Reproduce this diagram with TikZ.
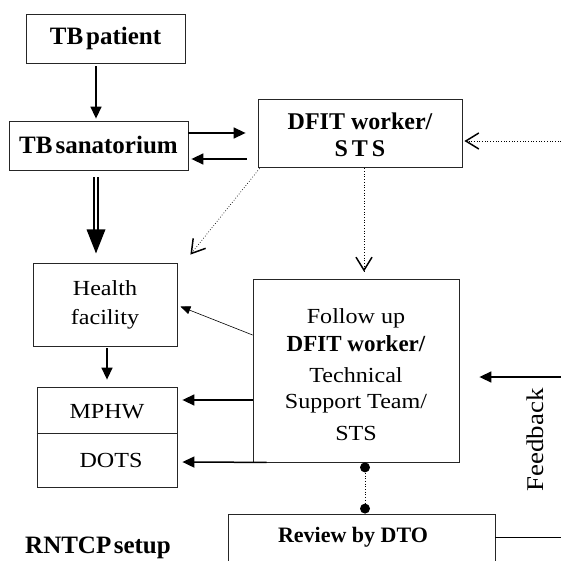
\documentclass[tikz,border=0pt]{standalone}
\usepackage{fontspec}
\setmainfont{Liberation Serif}
\newfontfamily\widefont{Liberation Serif}[FakeStretch=1.12]
\usetikzlibrary{arrows.meta,calc}
\begin{document}
\begin{tikzpicture}[x=1pt,y=-1pt,
  box/.style={draw=black!85,line width=0.8pt,inner sep=0pt},
  hd/.style={font=\fontsize{24}{26}\selectfont\bfseries},
  rg/.style={font=\widefont\fontsize{21.5}{29}\selectfont},
  arr/.style={line width=1.5pt,-{Triangle[length=12pt,width=11pt]}},
  thinarr/.style={line width=0.6pt,-{Triangle[length=10pt,width=8pt]}},
  dotline/.style={line width=0.7pt,dotted},
  vtip/.style={line width=1.5pt,solid,-{Straight Barb[length=13pt,width=16pt]}}]
\useasboundingbox (0,0) rectangle (561,561);
\clip (0,0) rectangle (561,561);
% boxes
\node[box,minimum width=159pt,minimum height=49pt] (tbp) at (105.5,38.5) {};
\node[hd,font=\fontsize{25}{26}\selectfont\bfseries] at (105.5,38) {TB\hspace{0.12em}patient};
\node[box,minimum width=179pt,minimum height=49pt] (tbs) at (98.5,145.5) {};
\node[hd,font=\fontsize{25}{26}\selectfont\bfseries] at (98.5,145) {TB\hspace{0.12em}sanatorium};
\node[box,minimum width=204pt,minimum height=68pt] (dfit) at (360,133) {};
\node[hd] at (360,121) {DFIT worker/};
\node[hd] at (360,149) {S\,T\,S};
\node[box,minimum width=144pt,minimum height=83pt] (hf) at (105,304.5) {};
\node[rg,align=center] at (105,305) {Health\\facility};
\node[box,minimum width=140pt,minimum height=100pt] (mp) at (107,437) {};
\draw[line width=0.8pt,draw=black!85] (mp.west |- 0,433) -- (mp.east |- 0,433);
\node[rg] at (107,412) {MPHW};
\node[rg] at (111,460) {DOTS};
\node[box,minimum width=206pt,minimum height=183pt] (fu) at (356,370.5) {};
\node[rg,align=center] at (356,318) {Follow up};
\node[hd,font=\fontsize{23}{26}\selectfont\bfseries] at (356,344) {DFIT worker/};
\node[rg] at (356,375) {Technical};
\node[rg] at (356,404) {Support Team/};
\node[rg] at (356,433) {STS};
\node[box,minimum width=267pt,minimum height=80pt] (rv) at (361.5,554) {};
\node[hd,font=\fontsize{22}{26}\selectfont\bfseries] at (353,537) {Review by DTO};
\node[font=\fontsize{25}{28}\selectfont\bfseries] (rn) at (98,548) {RNTCP\hspace{0.1em}setup};
\node[rg,rotate=90,font=\widefont\fontsize{24}{28}\selectfont] (fb) at (535,440) {Feedback};
% free ends
\coordinate (inR) at (561,141);
\coordinate (fbR) at (561,377);
\coordinate (rvR) at (561,537);
% connectors
\draw[arr] ($(tbp.south)+(-9.5,3)$) -- ($(tbs.north)+(-2.5,-2)$);
\draw[arr] (tbs.east |- 0,133) -- ($(dfit.west |- 0,133)+(-12,0)$);
\draw[arr] ($(dfit.west |- 0,159)+(-11,0)$) -- ($(tbs.east |- 0,159)+(3,0)$);
% double thick arrow
\draw[line width=1.6pt] ($(tbs.south)+(-4.5,7)$) -- ($(tbs.south)+(-4.5,62)$);
\draw[line width=1.6pt] ($(tbs.south)+(-0.5,7)$) -- ($(tbs.south)+(-0.5,62)$);
\fill ($(tbs.south)+(-12,59)$) -- ($(tbs.south)+(7,59)$) -- ($(tbs.south)+(-2.5,83)$) -- cycle;
% dotted
\coordinate (d1a) at ($(dfit.south west)+(2,1)$);
\coordinate (d1b) at ($(hf.north east)+(13,-8)$);
\draw[dotline] (d1a) -- (d1b);
\draw[vtip] ($(d1b)!2pt!(d1a)$) -- (d1b);
\coordinate (d2a) at ($(dfit.south)+(4,1)$);
\coordinate (d2b) at ($(fu.north)+(8,-7)$);
\draw[dotline] (d2a) -- (d2b);
\draw[vtip] ($(d2b)!2pt!(d2a)$) -- (d2b);
\coordinate (d3b) at ($(dfit.east)+(2,8)$);
\draw[dotline] (inR) -- (d3b);
\draw[vtip] ($(d3b)!2pt!(inR)$) -- (d3b);
% from follow-up
\draw[thinarr] (fu.west |- 0,335) -- ($(hf.east)+(3,2)$);
\draw[arr] (fu.west |- 0,400) -- ($(mp.east |- 0,400)+(5,0)$);
\draw[arr] ($(fu.south west)+(14,0)$) -- ($(mp.east |- 0,462)+(5,0)$);
\draw[arr] (mp.north |- 0,348) -- ($(mp.north)+(0,-7)$);
\draw[arr] (fbR) -- ($(fu.east |- 0,377)+(20,0)$);
% review
\draw[line width=0.7pt,dotted] ($(fu.south)+(9,5)$) -- ($(rv.north)+(3.5,-5)$);
\fill ($(fu.south)+(9,5)$) circle [radius=5pt];
\fill ($(rv.north)+(3.5,-5)$) circle [radius=5pt];
\draw[line width=0.7pt] (rv.east |- 0,537) -- (rvR);
\end{tikzpicture}
\end{document}
